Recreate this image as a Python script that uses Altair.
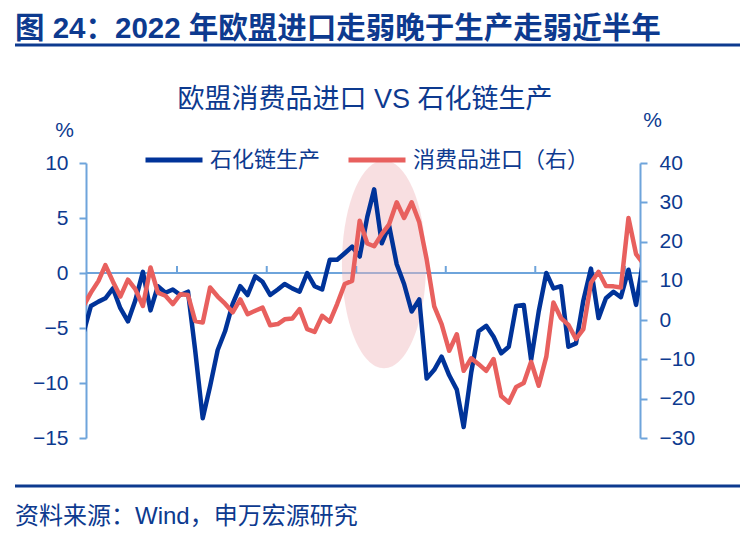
import altair as alt
import pandas as pd

FONT = "Liberation Sans, Noto Sans CJK SC, sans-serif"
NAVY = "#0d3a8f"
BLUE = "#003399"
RED = "#e8605e"
AXIS = "#6ea4db"

# Monthly readings, Dec 2018 - Mar 2025
# 石化链生产 (%, left axis)
petchem = [
    -5.5, -3.0, -2.6, -2.3, -1.4, -3.2, -4.4, -2.5, 0.1, -3.4,
    -1.2, -1.8, -1.5, -2.0, -1.7, -7.0, -13.2, -10.3, -7.0, -5.3,
    -2.8, -1.2, -2.0, -0.3, -0.8, -2.0, -1.5, -1.0, -1.4, -1.7,
    0.0, -1.2, -1.5, 1.2, 1.2, 1.8, 2.4, 1.5, 5.1, 7.6,
    2.7, 4.3, 0.8, -1.0, -3.5, -2.4, -9.6, -8.8, -7.6, -9.3,
    -10.6, -14.0, -9.0, -5.3, -4.8, -5.8, -7.3, -6.7, -3.0, -2.9,
    -7.9, -3.5, 0.0, -1.4, -1.2, -6.7, -6.4, -2.5, 0.4, -4.1,
    -2.3, -1.7, -2.2, 0.3, -2.9, 1.0,
]
# 消费品进口 (%, right axis)
imports = [
    3.5, 7.0, 10.0, 14.0, 9.8, 6.0, 10.3, 7.9, 3.6, 13.4,
    7.0, 6.2, 4.1, 6.6, 6.4, -0.2, -0.6, 8.3, 6.0, 4.2,
    2.0, 5.3, 1.5, 2.4, 3.2, -1.3, -1.0, 0.2, 0.4, 2.8,
    -2.3, -3.0, 1.1, -0.4, 4.1, 9.2, 10.0, 25.3, 19.5, 18.8,
    21.9, 24.4, 30.0, 26.0, 30.0, 24.9, 15.5, 3.5, -1.0, -7.8,
    -3.6, -12.9, -9.7, -11.2, -12.9, -9.9, -19.3, -21.0, -17.0, -16.0,
    -10.6, -16.7, -9.3, 4.5, 0.5, -1.2, -4.8, -2.3, 9.5, 12.3,
    8.7, 8.6, 8.3, 26.0, 16.8, 14.5,
]
series_names = ["石化链生产", "消费品进口（右）"]
left_ticks = [-15, -10, -5, 0, 5, 10]
right_ticks = [-30, -20, -10, 0, 10, 20, 30, 40]
year_labels = [2019, 2021, 2023, 2025]
year_marks = [2020, 2021, 2022, 2023, 2024, 2025]

dates = pd.date_range("2018-12-01", periods=len(petchem), freq="MS") + pd.Timedelta(days=14)
prod = pd.DataFrame({"date": dates, "value": petchem, "series": series_names[0]})
imp = pd.DataFrame({"date": dates, "value": imports, "series": series_names[1]})

x_scale = alt.Scale(domain=[alt.DateTime(year=2018, month=12, date=26),
                            alt.DateTime(year=2025, month=3, date=3)])
left_scale = alt.Scale(domain=[-15, 10], nice=False, zero=False)
right_scale = alt.Scale(domain=[-30, 40], nice=False, zero=False)
color_scale = alt.Scale(domain=series_names, range=[BLUE, RED])

x_axis = alt.Axis(
    values=[alt.DateTime(year=y, month=1, date=15) for y in year_labels],
    format="%Y", title=None, domain=False, ticks=False, grid=False,
    labelFlush=False, labelOverlap=False, labelPadding=15,
)

# highlighted period (2022 peak)
ellipse_path = "M0,-1 A0.404,1 0 1,1 0,1 A0.404,1 0 1,1 0,-1 Z"
ellipse = alt.Chart(pd.DataFrame({"date": ["2022-04-24"], "value": [0.8]})).mark_point(
    shape=ellipse_path, size=43264, filled=True, color="#efb9bc", opacity=0.45, strokeWidth=0
).encode(
    x=alt.X("date:T", scale=x_scale, axis=None),
    y=alt.Y("value:Q", scale=left_scale, axis=None),
)

zero_rule = alt.Chart(pd.DataFrame({"value": [0]})).mark_rule(color=AXIS, strokeWidth=2).encode(
    y=alt.Y("value:Q", scale=left_scale, axis=None)
)

year_ticks = alt.Chart(
    pd.DataFrame({"date": [pd.Timestamp(year=y, month=1, day=1) for y in year_marks]})
).mark_rule(color=AXIS, strokeWidth=2).encode(
    x=alt.X("date:T", scale=x_scale, axis=None),
    y=alt.value(103),
    y2=alt.value(110),
)

legend = alt.Legend(
    orient="none", legendX=57, legendY=-34, direction="horizontal", title=None,
    symbolType="stroke", symbolSize=3249, symbolStrokeWidth=5,
    labelFontSize=22, labelColor=NAVY, labelFont=FONT, labelOffset=5,
    columnPadding=17, labelLimit=300,
)

blue_line = alt.Chart(prod).mark_line(strokeWidth=4.5, strokeJoin="round", clip=True).encode(
    x=alt.X("date:T", scale=x_scale, axis=x_axis),
    y=alt.Y("value:Q", scale=left_scale,
            axis=alt.Axis(values=left_ticks, title="%", titleAngle=0, titleX=-22, titleY=-33,
                          titleAlign="center", titleBaseline="middle")),
    color=alt.Color("series:N", scale=color_scale, legend=legend),
)

red_line = alt.Chart(imp).mark_line(strokeWidth=4.5, strokeJoin="round", clip=True).encode(
    x=alt.X("date:T", scale=x_scale, axis=None),
    y=alt.Y("value:Q", scale=right_scale,
            axis=alt.Axis(values=right_ticks, orient="right", title="%", titleAngle=0,
                          titleX=12, titleY=-43, titleAlign="center", titleBaseline="middle",
                          labelPadding=12)),
    color=alt.Color("series:N", scale=color_scale, legend=legend),
)


def text_layer(text, x, y, size, weight="normal", align="left"):
    return alt.Chart(pd.DataFrame({"t": [text]})).mark_text(
        font=FONT, fontSize=size, fontWeight=weight, color=NAVY, align=align, baseline="alphabetic"
    ).encode(text="t:N", x=alt.value(x), y=alt.value(y))


def hline(y):
    return alt.Chart(pd.DataFrame({"k": [0]})).mark_rule(color=NAVY, strokeWidth=3).encode(
        x=alt.value(-71), x2=alt.value(654), y=alt.value(y)
    )


heading = text_layer("图 24：2022 年欧盟进口走弱晚于生产走弱近半年", -71, -125, 29.5, "bold")
subtitle = text_layer("欧盟消费品进口 VS 石化链生产", 279, -55, 27, align="center")
source = text_layer("资料来源：Wind，申万宏源研究", -71, 361, 24)

chart = alt.layer(
    zero_rule, ellipse, year_ticks, blue_line, red_line,
    heading, hline(-118), subtitle, source, hline(323),
).resolve_scale(
    y="independent"
).properties(
    width=554, height=275,
    autosize=alt.AutoSizeParams(type="none"),
    padding={"left": 86, "top": 163, "right": 115, "bottom": 97},
).configure_view(
    stroke=None
).configure_axis(
    domainColor=AXIS, domainWidth=2, tickColor=AXIS, tickWidth=2, tickSize=7,
    labelColor=NAVY, labelFont=FONT, labelFontSize=21, labelPadding=11,
    titleColor=NAVY, titleFont=FONT, titleFontSize=21, titleFontWeight="normal",
    grid=False,
)

chart.save("out.html", embed_options={"renderer": "svg", "actions": False})
